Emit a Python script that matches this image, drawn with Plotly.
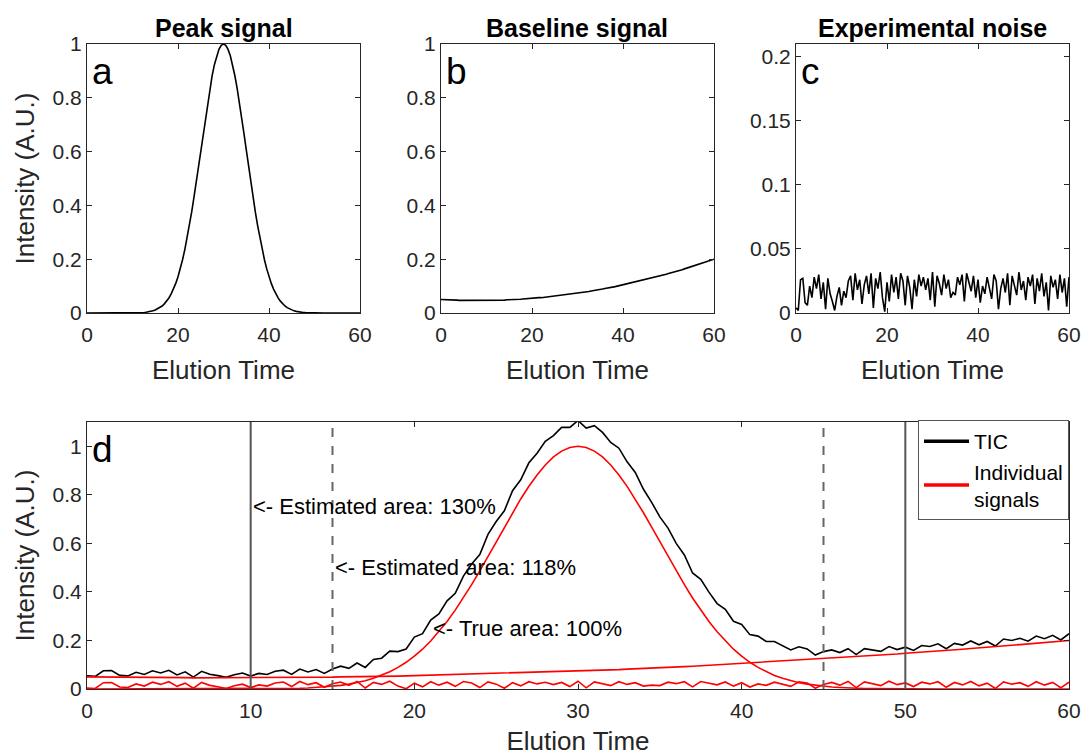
import numpy as np
import plotly.graph_objects as go

# ---------------- data ----------------
elution_time = np.arange(0, 60.5, 0.5)  # sampling grid, 121 points

peak_signal = [
    0, 0, 0, 0, 0, 0, 0, 0, 0, 0, 0, 0, 0, 0, 0, 0, 0, 0, 0, 0,
    0.0003, 0.0004, 0.0007, 0.001, 0.0015, 0.002, 0.003, 0.004, 0.006, 0.008,
    0.011, 0.015, 0.020, 0.026, 0.034, 0.044, 0.056, 0.071, 0.089, 0.110,
    0.135, 0.164, 0.198, 0.236, 0.278, 0.325, 0.375, 0.430, 0.487, 0.546,
    0.607, 0.667, 0.726, 0.783, 0.835, 0.882, 0.923, 0.956, 0.980, 0.995,
    1.000,
    0.995, 0.980, 0.956, 0.923, 0.882, 0.835, 0.783, 0.726, 0.667, 0.607,
    0.546, 0.487, 0.430, 0.375, 0.325, 0.278, 0.236, 0.198, 0.164, 0.135,
    0.110, 0.089, 0.071, 0.056, 0.044, 0.034, 0.026, 0.020, 0.015, 0.011,
    0.008, 0.006, 0.004, 0.003, 0.002, 0.0015, 0.001, 0.0007, 0.0004, 0.0003,
    0, 0, 0, 0, 0, 0, 0, 0, 0, 0, 0, 0, 0, 0, 0, 0, 0, 0, 0, 0,
]

baseline_signal = [
    0.050, 0.050, 0.049, 0.049, 0.048, 0.048, 0.048, 0.048, 0.047, 0.047,
    0.047, 0.047, 0.047, 0.046, 0.046, 0.046, 0.046, 0.046, 0.046, 0.046,
    0.047, 0.047, 0.047, 0.047, 0.047, 0.048, 0.048, 0.048, 0.048, 0.049,
    0.049, 0.050, 0.050, 0.050, 0.051, 0.051, 0.052, 0.053, 0.053, 0.054,
    0.055, 0.055, 0.056, 0.057, 0.057, 0.058, 0.059, 0.060, 0.061, 0.062,
    0.063, 0.064, 0.065, 0.066, 0.067, 0.068, 0.069, 0.070, 0.071, 0.073,
    0.074, 0.075, 0.076, 0.078, 0.079, 0.080, 0.082, 0.083, 0.085, 0.086,
    0.088, 0.089, 0.091, 0.092, 0.094, 0.096, 0.097, 0.099, 0.101, 0.103,
    0.105, 0.106, 0.108, 0.110, 0.112, 0.114, 0.116, 0.118, 0.120, 0.122,
    0.124, 0.126, 0.128, 0.131, 0.133, 0.135, 0.137, 0.140, 0.142, 0.144,
    0.147, 0.149, 0.151, 0.154, 0.156, 0.159, 0.161, 0.164, 0.167, 0.169,
    0.172, 0.175, 0.177, 0.180, 0.183, 0.186, 0.188, 0.191, 0.194, 0.197,
    0.200,
]

experimental_noise = [
    0.004, 0.002, 0.026, 0.027, 0.008, 0.006, 0.021, 0.012, 0.028, 0.019,
    0.030, 0.011, 0.024, 0.003, 0.027, 0.015, 0.009, 0.002, 0.013, 0.020,
    0.006, 0.017, 0.012, 0.025, 0.029, 0.010, 0.031, 0.018, 0.026, 0.007,
    0.022, 0.029, 0.015, 0.031, 0.004, 0.027, 0.019, 0.032, 0.012, 0.001,
    0.024, 0.009, 0.030, 0.016, 0.028, 0.011, 0.031, 0.025, 0.006, 0.029,
    0.020, 0.003, 0.026, 0.013, 0.030, 0.021, 0.028, 0.018, 0.027, 0.010,
    0.032, 0.005, 0.029, 0.023, 0.014, 0.030, 0.019, 0.026, 0.012, 0.016,
    0.014, 0.028, 0.022, 0.030, 0.009, 0.031, 0.024, 0.017, 0.029, 0.012,
    0.026, 0.008, 0.021, 0.015, 0.028, 0.020, 0.011, 0.030, 0.025, 0.003,
    0.019, 0.027, 0.016, 0.031, 0.006, 0.029, 0.022, 0.014, 0.032, 0.018,
    0.025, 0.010, 0.028, 0.021, 0.030, 0.007, 0.027, 0.017, 0.031, 0.013,
    0.024, 0.002, 0.029, 0.020, 0.026, 0.011, 0.030, 0.016, 0.027, 0.005,
    0.028,
]

tic = (np.array(peak_signal) + np.array(baseline_signal) + np.array(experimental_noise)).tolist()

panel_titles = ["Peak signal", "Baseline signal", "Experimental noise"]
panel_letters = ["a", "b", "c", "d"]
integration_solid = [10, 50]
integration_dashed = [15, 45]
area_labels = ["<- Estimated area: 130%", "<- Estimated area: 118%", "<- True area: 100%"]
area_label_x = [10, 15, 21]
area_label_y = [0.75, 0.5, 0.25]
legend_names = ["TIC", "Individual<br>signals"]

# ---------------- figure ----------------
W, H = 1084, 756
FONT = "Liberation Sans, Arial, sans-serif"
AX = "#262626"

def xd(a, b):
    return [a / W, b / W]

def yd(top, bottom):
    return [1 - bottom / H, 1 - top / H]

fig = go.Figure()
black = dict(color="black", width=1.6)
red = dict(color="#ff0000", width=1.6)

fig.add_trace(go.Scatter(x=elution_time, y=peak_signal, mode="lines", line=black,
                         xaxis="x", yaxis="y", showlegend=False))
fig.add_trace(go.Scatter(x=elution_time, y=baseline_signal, mode="lines", line=black,
                         xaxis="x2", yaxis="y2", showlegend=False))
fig.add_trace(go.Scatter(x=elution_time, y=experimental_noise, mode="lines", line=black,
                         xaxis="x3", yaxis="y3", showlegend=False))

# bottom panel
fig.add_trace(go.Scatter(x=elution_time, y=tic, mode="lines", line=black,
                         xaxis="x4", yaxis="y4", showlegend=False))
for series in (peak_signal, baseline_signal, experimental_noise):
    fig.add_trace(go.Scatter(x=elution_time, y=series, mode="lines", line=red,
                             xaxis="x4", yaxis="y4", showlegend=False))
# legend entries (thicker sample lines, as in the reference)
for name, col in zip(legend_names, ["black", "#ff0000"]):
    fig.add_trace(go.Scatter(x=[None], y=[None], mode="lines", name=name,
                             line=dict(color=col, width=3.5), xaxis="x4", yaxis="y4"))

def axis_style(**kw):
    d = dict(showline=True, linecolor=AX, linewidth=1, mirror="ticks", ticks="inside",
             ticklen=5, tickcolor=AX, showgrid=False, zeroline=False, automargin=False,
             tickfont=dict(size=21, color=AX, family=FONT),
             title_font=dict(size=26, color=AX, family=FONT))
    d.update(kw)
    return d

top_x = [xd(87, 360), xd(441, 714), xd(796, 1069)]
top_y = yd(44, 313)
ymax = [1.0, 1.0, 0.21]
ydtick = [0.2, 0.2, 0.05]

layout = dict(width=W, height=H, margin=dict(l=0, r=0, t=0, b=0, autoexpand=False),
              plot_bgcolor="white", paper_bgcolor="white", template="none",
              font=dict(family=FONT, color=AX))
for i in range(3):
    sx = "" if i == 0 else str(i + 1)
    layout["xaxis" + sx] = axis_style(domain=top_x[i], range=[0, 60], tickvals=[0, 20, 40, 60],
                                      anchor="y" + sx, ticklabelstandoff=3,
                                      title=dict(text="Elution Time", standoff=15))
    layout["yaxis" + sx] = axis_style(domain=top_y, range=[0, ymax[i]], dtick=ydtick[i],
                                      anchor="x" + sx,
                                      title=dict(text="Intensity (A.U.)" if i == 0 else "", standoff=10))

layout["xaxis4"] = axis_style(domain=xd(87, 1069), range=[0, 60], dtick=10, anchor="y4",
                              ticklabelstandoff=3,
                              title=dict(text="Elution Time", standoff=12))
layout["yaxis4"] = axis_style(domain=yd(422, 689), range=[0, 1.1], dtick=0.2, anchor="x4",
                              title=dict(text="Intensity (A.U.)", standoff=10))
fig.update_layout(**layout)

# titles
for i, t in enumerate(panel_titles):
    cx = (top_x[i][0] + top_x[i][1]) / 2
    fig.add_annotation(x=cx, y=1 - 28 / H, xref="paper", yref="paper", text="<b>%s</b>" % t,
                       showarrow=False, font=dict(size=25, color="black", family=FONT),
                       xanchor="center", yanchor="middle")

# panel letters
letter_refs = [("x", "y"), ("x2", "y2"), ("x3", "y3"), ("x4", "y4")]
for (xr, yr), letter in zip(letter_refs, panel_letters):
    fig.add_annotation(x=0.0, y=1.0, xref=xr + " domain", yref=yr + " domain", text=letter,
                       showarrow=False, font=dict(size=37, color="black", family=FONT),
                       xanchor="left", yanchor="top", xshift=3, yshift=-5)

# integration boundaries
for xv in integration_solid:
    fig.add_shape(type="line", x0=xv, x1=xv, y0=0, y1=1, xref="x4", yref="y4 domain",
                  line=dict(color="#555555", width=2))
for xv in integration_dashed:
    fig.add_shape(type="line", x0=xv, x1=xv, y0=0, y1=1, xref="x4", yref="y4 domain",
                  line=dict(color="#666666", width=2, dash="dash"))

for txt, xv, yv in zip(area_labels, area_label_x, area_label_y):
    fig.add_annotation(x=xv, y=yv, xref="x4", yref="y4", text=txt, showarrow=False,
                       xanchor="left", yanchor="middle",
                       font=dict(size=22, color="black", family=FONT))

fig.update_layout(legend=dict(x=918 / W, y=1 - 420 / H, xanchor="left", yanchor="top",
                              bgcolor="white", bordercolor="#555555", borderwidth=1,
                              font=dict(size=21, color="black", family=FONT),
                              tracegroupgap=0, itemwidth=45))

fig.write_html("out.html")
